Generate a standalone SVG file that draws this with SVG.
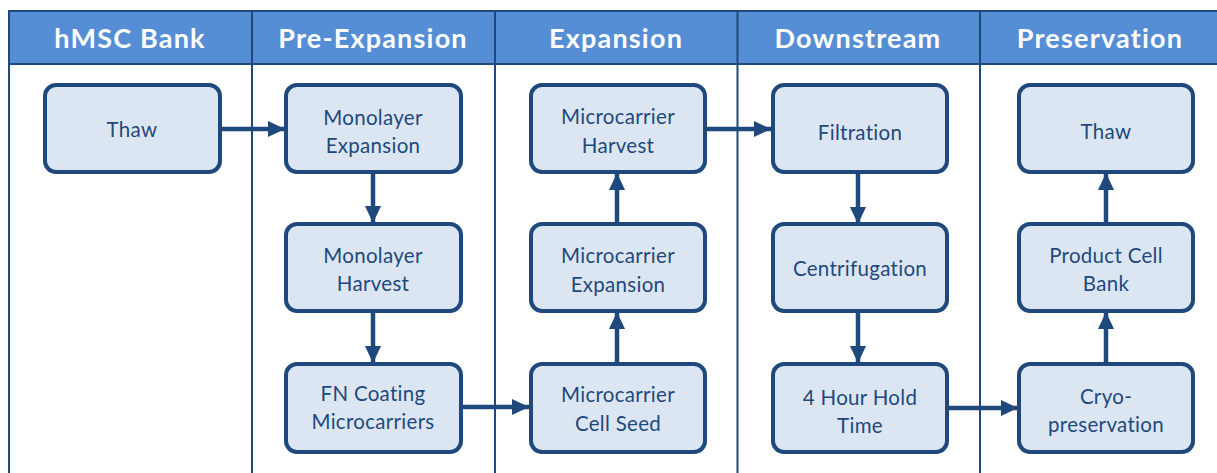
<svg xmlns="http://www.w3.org/2000/svg" width="1217" height="473" viewBox="0 0 1217 473">
<defs>
<style>
.hdr{fill:#558ED5;stroke:#1F497D;stroke-width:2}
.div{stroke:#1F497D;stroke-width:2;fill:none}
.node rect{fill:#DCE6F2;stroke:#1F497D;stroke-width:4}
.node text{font-family:Lato,"Open Sans",sans-serif;font-size:20.5px;fill:#1F497D;text-anchor:middle;letter-spacing:0.3px}
.ht{font-family:Lato,"Open Sans",sans-serif;font-size:27px;font-weight:bold;fill:#FFFFFF;text-anchor:middle;letter-spacing:1.2px}
.conn{stroke:#1F497D;stroke-width:4.5;fill:none;marker-end:url(#ah)}
</style>
<marker id="ah" markerWidth="4" markerHeight="4" refX="3.8" refY="2" orient="auto" markerUnits="strokeWidth"><path d="M0,0.2 L3.8,2 L0,3.8 Z" fill="#1F497D"/></marker>
</defs>
<rect width="1217" height="473" fill="#FFFFFF"/>
<g id="lanes">
<rect class="hdr" x="9" y="11" width="1215" height="53"/>
<line class="div" x1="9" y1="11" x2="9" y2="475"/>
<line class="div" x1="252" y1="11" x2="252" y2="475"/>
<line class="div" x1="495" y1="11" x2="495" y2="475"/>
<line class="div" x1="737.5" y1="11" x2="737.5" y2="475"/>
<line class="div" x1="980" y1="11" x2="980" y2="475"/>
<text class="ht" x="130" y="48">hMSC Bank</text>
<text class="ht" x="373" y="48">Pre-Expansion</text>
<text class="ht" x="616" y="48">Expansion</text>
<text class="ht" x="858" y="48">Downstream</text>
<text class="ht" x="1100" y="48">Preservation</text>
</g>
<g id="connectors">
<line class="conn" x1="220" y1="129" x2="285" y2="129"/>
<line class="conn" x1="373" y1="172" x2="373" y2="223"/>
<line class="conn" x1="373" y1="311" x2="373" y2="363"/>
<line class="conn" x1="462" y1="407" x2="529" y2="407"/>
<line class="conn" x1="617" y1="363" x2="617" y2="312"/>
<line class="conn" x1="617" y1="224" x2="617" y2="173"/>
<line class="conn" x1="705" y1="129" x2="771" y2="129"/>
<line class="conn" x1="858" y1="172" x2="858" y2="224"/>
<line class="conn" x1="858" y1="311" x2="858" y2="363"/>
<line class="conn" x1="947" y1="408" x2="1018" y2="408"/>
<line class="conn" x1="1106" y1="363" x2="1106" y2="312"/>
<line class="conn" x1="1106" y1="224" x2="1106" y2="173"/>
</g>
<g id="n_thaw1" class="node"><rect x="45" y="85" width="175" height="87" rx="11"/><text x="132" y="137">Thaw</text></g>
<g id="n_mono_exp" class="node"><rect x="286" y="85" width="175" height="87" rx="11"/><text x="373" y="125">Monolayer</text><text x="373" y="153">Expansion</text></g>
<g id="n_mono_harv" class="node"><rect x="286" y="224" width="175" height="87" rx="11"/><text x="373" y="263">Monolayer</text><text x="373" y="291">Harvest</text></g>
<g id="n_fn" class="node"><rect x="286" y="364" width="175" height="88" rx="11"/><text x="373" y="401">FN Coating</text><text x="373" y="429">Microcarriers</text></g>
<g id="n_mc_harv" class="node"><rect x="531" y="85" width="174" height="87" rx="11"/><text x="618" y="124">Microcarrier</text><text x="618" y="153">Harvest</text></g>
<g id="n_mc_exp" class="node"><rect x="531" y="224" width="174" height="87" rx="11"/><text x="618" y="263">Microcarrier</text><text x="618" y="292">Expansion</text></g>
<g id="n_mc_seed" class="node"><rect x="531" y="364" width="174" height="88" rx="11"/><text x="618" y="402">Microcarrier</text><text x="618" y="431">Cell Seed</text></g>
<g id="n_filt" class="node"><rect x="773" y="85" width="174" height="87" rx="11"/><text x="860" y="140">Filtration</text></g>
<g id="n_cent" class="node"><rect x="773" y="224" width="174" height="87" rx="11"/><text x="860" y="276">Centrifugation</text></g>
<g id="n_hold" class="node"><rect x="773" y="364" width="174" height="88" rx="11"/><text x="860" y="405">4 Hour Hold</text><text x="860" y="433">Time</text></g>
<g id="n_thaw2" class="node"><rect x="1019" y="85" width="174" height="87" rx="11"/><text x="1106" y="139">Thaw</text></g>
<g id="n_pcb" class="node"><rect x="1019" y="224" width="174" height="87" rx="11"/><text x="1106" y="263">Product Cell</text><text x="1106" y="291">Bank</text></g>
<g id="n_cryo" class="node"><rect x="1019" y="364" width="174" height="88" rx="11"/><text x="1106" y="404">Cryo-</text><text x="1106" y="432">preservation</text></g>
</svg>
